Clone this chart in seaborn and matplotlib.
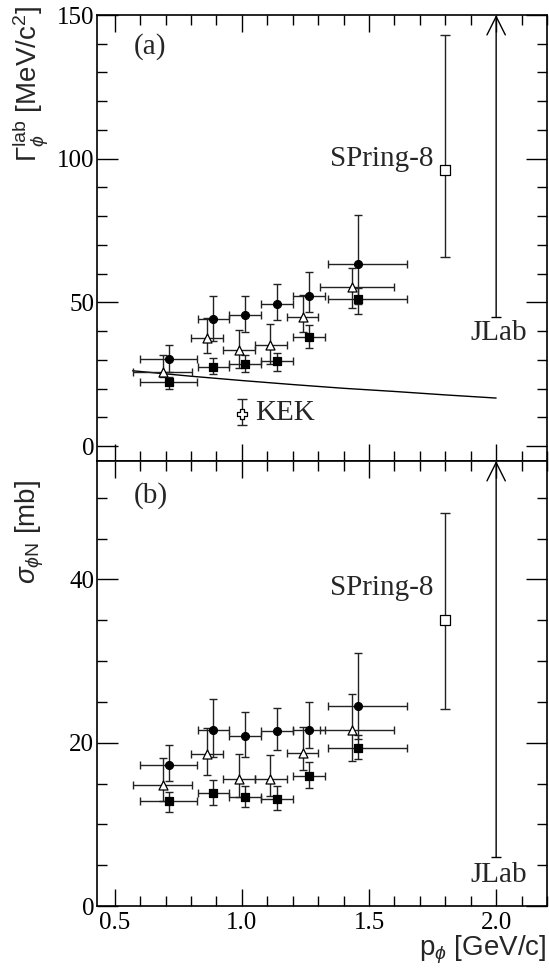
"""phi-N width and cross section vs phi momentum (two stacked panels)."""
import matplotlib
matplotlib.use("Agg")
import matplotlib.pyplot as plt
import numpy as np
import pandas as pd
import seaborn as sns
from matplotlib.ticker import MultipleLocator

sns.set_theme(style="ticks")
plt.rcParams["font.family"] = ["Liberation Serif", "DejaVu Serif"]
plt.rcParams["mathtext.fontset"] = "custom"
plt.rcParams["mathtext.rm"] = "Liberation Sans"
plt.rcParams["mathtext.it"] = "Liberation Sans:italic"
plt.rcParams["mathtext.sf"] = "Liberation Sans"

# ---- data ----
# momentum bins (GeV/c)
p_circ = [0.713, 0.887, 1.013, 1.138, 1.262, 1.457]
p_circ_lo = [0.601, 0.826, 0.950, 1.077, 1.199, 1.340]
p_circ_hi = [0.824, 0.950, 1.077, 1.199, 1.327, 1.650]
p_tri = [0.688, 0.861, 0.988, 1.111, 1.239, 1.433]
p_tri_lo = [0.572, 0.799, 0.924, 1.051, 1.176, 1.307]
p_tri_hi = [0.802, 0.926, 1.051, 1.176, 1.300, 1.600]

# (a) Gamma_lab [MeV/c^2]
gam_circ = [30.4, 44.2, 45.5, 49.4, 52.2, 63.5]
gam_circ_up = [35.0, 52.2, 52.2, 56.5, 60.4, 80.5]
gam_circ_dn = [25.9, 36.5, 39.7, 43.8, 46.6, 49.5]
gam_tri = [25.8, 37.7, 33.3, 35.3, 44.9, 55.2]
gam_tri_up = [31.8, 44.7, 40.3, 42.4, 52.4, 62.0]
gam_tri_dn = [24.1, 32.4, 27.0, 28.4, 39.7, 48.0]
gam_sq = [22.3, 27.4, 28.6, 29.5, 37.8, 51.0]
gam_sq_up = [24.1, 30.8, 31.6, 32.4, 42.2, 55.0]
gam_sq_dn = [19.8, 25.2, 25.8, 26.2, 34.1, 46.0]

# (b) sigma_phiN [mb]
sig_circ = [17.3, 21.6, 20.8, 21.4, 21.6, 24.5]
sig_circ_up = [19.7, 25.4, 23.7, 24.3, 25.0, 31.0]
sig_circ_dn = [15.3, 18.3, 18.2, 19.1, 19.4, 20.5]
sig_tri = [14.8, 18.6, 15.6, 15.6, 18.7, 21.6]
sig_tri_up = [18.1, 21.8, 18.6, 18.5, 21.9, 26.0]
sig_tri_dn = [12.8, 16.1, 13.4, 13.5, 16.6, 17.8]
sig_sq = [12.8, 13.8, 13.4, 13.1, 15.9, 19.4]
sig_sq_up = [14.0, 15.4, 14.7, 14.7, 17.6, 21.0]
sig_sq_dn = [11.5, 12.4, 12.1, 11.7, 14.5, 18.0]

# other experiments
spring8_p = 1.80
spring8_gam = [96.2, 142.9, 65.7]  # value, upper, lower
spring8_sig = [35.0, 48.1, 24.1]
kek_p = 1.0
kek_gam = [11.0, 16.3, 7.3]
jlab_p = 2.0
jlab_gam_low = 45.0
jlab_sig_low = 6.0

# theory curve in panel (a)
curve_p = [0.57, 0.8, 1.0, 1.2, 1.4, 1.6, 1.8, 2.0]
curve_gam = [26.2, 24.3, 22.8, 21.4, 20.1, 19.0, 17.8, 16.7]

W, H = 549, 972
fig = plt.figure(figsize=(W / 100, H / 100), dpi=100)
ax1 = fig.add_axes([97 / W, 1 - 461 / H, 450 / W, 446 / H])
ax2 = fig.add_axes([97 / W, 1 - 906 / H, 450 / W, 445 / H])

ebar_kw = dict(fmt="none", ecolor="#222222", elinewidth=1.0, capsize=2.6, capthick=1.0, zorder=2)


def draw_series(ax, p, plo, phi, v, vup, vdn, marker, face, size):
    p = np.asarray(p)
    v = np.asarray(v)
    xerr = [p - np.asarray(plo), np.asarray(phi) - p]
    yerr = [v - np.asarray(vdn), np.asarray(vup) - v]
    ax.errorbar(p, v, xerr=xerr, yerr=yerr, **ebar_kw)
    df = pd.DataFrame({"p": p, "v": v})
    sns.scatterplot(data=df, x="p", y="v", ax=ax, marker=marker, s=size,
                    facecolor=face, edgecolor="black", linewidth=0.9, zorder=3, legend=False)


def single_point(ax, p, vals, marker, size):
    v, up, dn = vals
    ax.errorbar([p], [v], yerr=[[v - dn], [up - v]], ecolor="#222222", elinewidth=1.0,
                capsize=3.5, capthick=1.0, fmt="none", zorder=2)
    sns.scatterplot(x=[p], y=[v], ax=ax, marker=marker, s=size, facecolor="white",
                    edgecolor="black", linewidth=0.9, zorder=3, legend=False)


# panel (a)
draw_series(ax1, p_circ, p_circ_lo, p_circ_hi, gam_circ, gam_circ_up, gam_circ_dn, "o", "black", 32)
draw_series(ax1, p_tri, p_tri_lo, p_tri_hi, gam_tri, gam_tri_up, gam_tri_dn, "^", "white", 42)
draw_series(ax1, p_circ, p_circ_lo, p_circ_hi, gam_sq, gam_sq_up, gam_sq_dn, "s", "black", 34)
single_point(ax1, spring8_p, spring8_gam, "s", 48)
single_point(ax1, kek_p, kek_gam, "P", 50)
sns.lineplot(x=curve_p, y=curve_gam, ax=ax1, color="black", lw=1.0, estimator=None, zorder=1)

# panel (b)
draw_series(ax2, p_circ, p_circ_lo, p_circ_hi, sig_circ, sig_circ_up, sig_circ_dn, "o", "black", 32)
draw_series(ax2, p_tri, p_tri_lo, p_tri_hi, sig_tri, sig_tri_up, sig_tri_dn, "^", "white", 42)
draw_series(ax2, p_circ, p_circ_lo, p_circ_hi, sig_sq, sig_sq_up, sig_sq_dn, "s", "black", 34)
single_point(ax2, spring8_p, spring8_sig, "s", 48)

# JLab lower limits (arrows to the top of each panel)
arrow_kw = dict(arrowstyle="->,head_length=1.1,head_width=0.55", color="black", lw=1.0,
                shrinkA=0, shrinkB=0)
for ax, low, top in [(ax1, jlab_gam_low, 150), (ax2, jlab_sig_low, 54.5)]:
    ax.annotate("", xy=(jlab_p, top), xytext=(jlab_p, low), arrowprops=arrow_kw,
                annotation_clip=False)
    ax.plot([jlab_p], [low], marker="_", color="black", ms=7, mew=1.0)

# axes ranges and ticks
ax1.set_xlim(0.43, 2.2)
ax2.set_xlim(0.43, 2.2)
ax1.set_ylim(-5.2, 150)
ax2.set_ylim(0, 54.5)
ax1.yaxis.set_major_locator(MultipleLocator(50))
ax1.yaxis.set_minor_locator(MultipleLocator(10))
ax2.yaxis.set_major_locator(MultipleLocator(20))
ax2.yaxis.set_minor_locator(MultipleLocator(5))
for ax in (ax1, ax2):
    ax.xaxis.set_major_locator(MultipleLocator(0.5))
    ax.xaxis.set_minor_locator(MultipleLocator(0.1))
    ax.tick_params(which="both", direction="in", top=True, right=True, colors="black",
                   labelsize=18, width=1.0)
    ax.tick_params(which="major", axis="y", length=15, pad=2)
    ax.tick_params(which="major", axis="x", length=12, pad=4)
    ax.tick_params(which="minor", length=7)
    for s in ax.spines.values():
        s.set_linewidth(1.2)
        s.set_color("black")
    ax.set_xlabel("")
    ax.set_ylabel("")
ax1.tick_params(labelbottom=False)
ax2.set_yticks([0, 20, 40])
ax2.set_xticks([0.5, 1.0, 1.5, 2.0])
ax2.set_xticklabels(["0.5", "1.0", "1.5", "2.0"])

# annotations
ax1.text(0.64, 139, "(a)", fontsize=21, va="center", ha="center")
ax2.text(0.64, 50.3, "(b)", fontsize=21, va="center", ha="center")
ax1.text(1.755, 100, "SPring-8", fontsize=21, va="center", ha="right")
ax2.text(1.755, 38.9, "SPring-8", fontsize=21, va="center", ha="right")
ax1.text(1.90, 39.2, "JLab", fontsize=21, va="center", ha="left")
ax2.text(1.90, 3.8, "JLab", fontsize=21, va="center", ha="left")
ax1.text(1.051, 11.6, "KEK", fontsize=21, va="center", ha="left")

# axis titles (ROOT style, aligned to the top / right)
fig.text(30 / W, 1 - 6 / H, r"$\Gamma_{\phi}^{\rm lab}$ [MeV/c$^{2}$]", rotation=90,
         ha="center", va="top", fontsize=20, family="Liberation Sans")
fig.text(30 / W, 1 - 480 / H, r"$\sigma_{\phi \rm N}$ [mb]", rotation=90,
         ha="center", va="top", fontsize=20, family="Liberation Sans")
fig.text(547 / W, 1 - 966 / H, r"p$_{\phi}$ [GeV/c]", ha="right", va="bottom",
         fontsize=20, family="Liberation Sans")

fig.savefig("out.png", dpi=100, facecolor="white")
